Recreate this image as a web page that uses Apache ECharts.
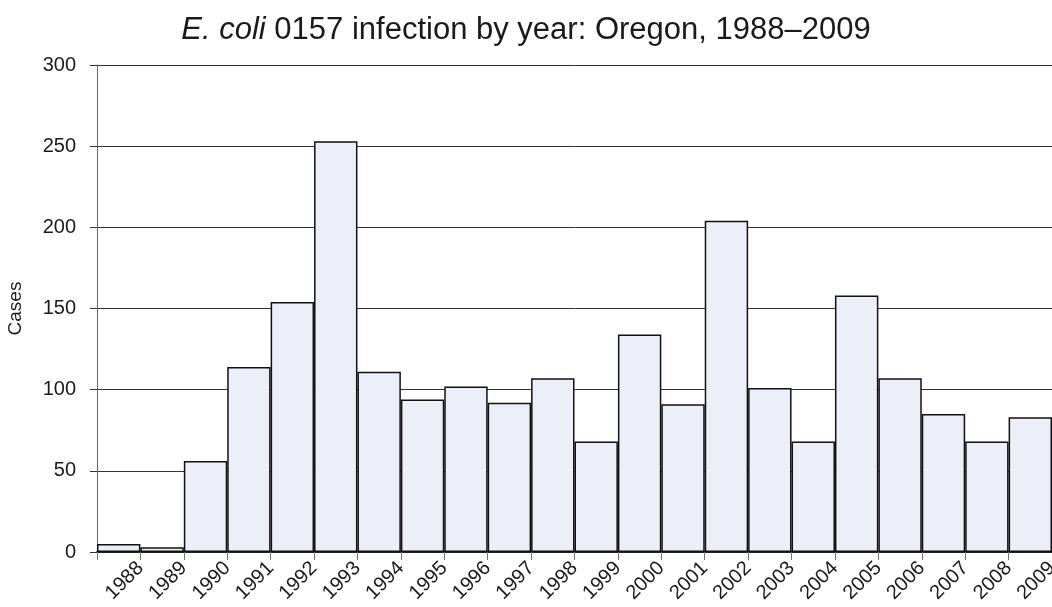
<!DOCTYPE html>
<html>
<head>
<meta charset="utf-8">
<script src="https://cdn.jsdelivr.net/npm/echarts@6/dist/echarts.min.js"></script>
<style>
  html, body { margin: 0; padding: 0; background: #fff; }
  #chart { width: 1052px; height: 607px; }
</style>
</head>
<body>
<div id="chart"></div>
<script>
var years = ['1988', '1989', '1990', '1991', '1992', '1993', '1994', '1995', '1996', '1997', '1998',
  '1999', '2000', '2001', '2002', '2003', '2004', '2005', '2006', '2007', '2008', '2009'];
var cases = [5, 3, 56, 114, 154, 253, 111, 94, 102, 92, 107, 68, 134, 91, 204, 101, 68, 158, 107, 85, 68, 83];
var yTicks = [0, 50, 100, 150, 200, 250, 300];

var font = 'Liberation Sans, Arial, sans-serif';
var chart = echarts.init(document.getElementById('chart'));

var option = {
  animation: false,
  title: {
    text: '{i|E. coli} 0157 infection by year: Oregon, 1988\u20132009',
    left: 'center',
    top: 10,
    textStyle: {
      fontFamily: font,
      fontSize: 31,
      fontWeight: 'normal',
      color: '#1a1a1a',
      rich: {
        i: { fontFamily: font, fontSize: 31, fontStyle: 'italic', color: '#1a1a1a' }
      }
    }
  },
  grid: { left: 97, right: 0, top: 65, bottom: 55, containLabel: false, outerBoundsMode: 'none' },
  xAxis: [
    {
      type: 'category',
      data: years,
      boundaryGap: true,
      axisLine: { show: false },
      axisTick: { show: false },
      axisLabel: { show: false }
    },
    {
      // boundary axis: ticks and year labels sit on bar edges
      type: 'value',
      position: 'bottom',
      min: 0,
      max: years.length,
      interval: 1,
      splitLine: { show: false },
      axisLine: { show: true, lineStyle: { color: '#222', width: 2 } },
      axisTick: { show: true, length: 8, lineStyle: { color: '#777', width: 1 } },
      axisLabel: {
        rotate: 45,
        margin: 13,
        fontFamily: font,
        fontSize: 20,
        color: '#1a1a1a',
        showMinLabel: true,
        showMaxLabel: true,
        hideOverlap: false,
        formatter: function (v) { return v >= 1 ? years[v - 1] : ''; }
      }
    }
  ],
  yAxis: {
    type: 'value',
    min: yTicks[0],
    max: yTicks[yTicks.length - 1],
    interval: 50,
    name: 'Cases',
    nameLocation: 'middle',
    nameGap: 72,
    nameTextStyle: { fontFamily: font, fontSize: 19, color: '#1a1a1a' },
    axisLine: { show: true, lineStyle: { color: '#666', width: 1 } },
    axisTick: { show: true, length: 7, lineStyle: { color: '#333' } },
    axisLabel: { fontFamily: font, fontSize: 20, color: '#1a1a1a', margin: 21 },
    splitLine: { show: true, lineStyle: { color: '#333', width: 1 } }
  },
  series: [
    {
      type: 'bar',
      xAxisIndex: 0,
      data: cases,
      barCategoryGap: 0,
      itemStyle: { color: '#eceef8', borderColor: '#111', borderWidth: 1.5 }
    }
  ]
};
chart.setOption(option);
</script>
</body>
</html>
